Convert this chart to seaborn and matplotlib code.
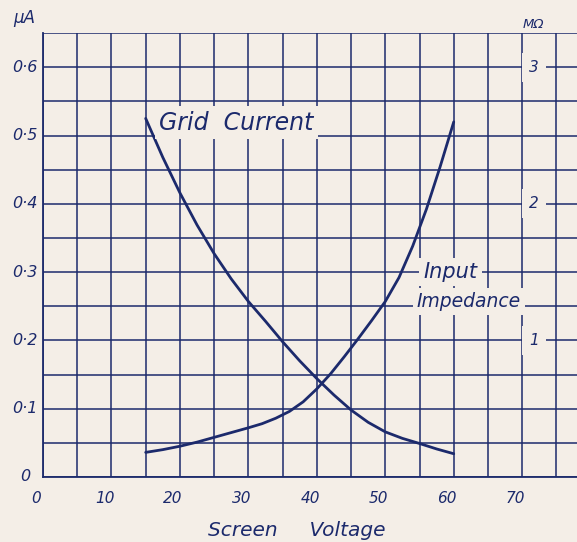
import matplotlib
matplotlib.use("Agg")
import matplotlib.pyplot as plt
import seaborn as sns
from matplotlib.ticker import MultipleLocator
from matplotlib.transforms import blended_transform_factory

# readings
gc_volts = [15, 17.5, 20, 22.5, 25, 27.5, 30, 32.5, 35, 37.5, 40, 42.5, 45, 47.5, 50, 52.5, 55, 57.5, 60]
gc_uA = [0.525, 0.468, 0.416, 0.369, 0.327, 0.29, 0.257, 0.228, 0.198, 0.17, 0.144, 0.12,
         0.098, 0.08, 0.066, 0.0565, 0.049, 0.041, 0.034]

imp_volts = [15, 17.5, 20, 22.5, 25, 27.5, 30, 32, 34, 36, 38, 40, 42, 44, 46, 48, 50, 52, 54, 56, 58, 60]
imp_mohm = [0.18, 0.2, 0.225, 0.255, 0.29, 0.325, 0.36, 0.39, 0.43, 0.48, 0.55, 0.645, 0.755,
            0.88, 1.01, 1.145, 1.285, 1.46, 1.69, 1.96, 2.27, 2.6]

x_ticks = [0, 10, 20, 30, 40, 50, 60, 70]
x_labels = ["0", "10", "20", "30", "40", "50", "60", "70"]
ua_ticks = [0, 0.1, 0.2, 0.3, 0.4, 0.5, 0.6]
ua_labels = ["0", "0·1", "0·2", "0·3", "0·4", "0·5", "0·6"]
mohm_ticks = [1, 2, 3]
mohm_labels = ["1", "2", "3"]

ink = "#1c2a6c"
paper = "#f4eee7"

sns.set_style("white")
plt.rcParams["font.family"] = ["DejaVu Sans"]
plt.rcParams["font.style"] = "italic"

fig = plt.figure(figsize=(5.77, 5.42), dpi=100, facecolor=paper)
ax = fig.add_axes([0.0745, 0.12, 0.9255, 0.819])
ax.set_facecolor(paper)

sns.lineplot(x=gc_volts, y=gc_uA, ax=ax, color=ink, lw=2.0, zorder=3)

ax.set_xlim(0, 78)
ax.set_ylim(0, 0.65)
ax.xaxis.set_major_locator(MultipleLocator(5))
ax.yaxis.set_major_locator(MultipleLocator(0.05))
ax.grid(True, color=ink, lw=1.1, zorder=1)
ax.set_axisbelow(True)
ax.tick_params(length=0, labelbottom=False, labelleft=False)
for s in ["top", "right"]:
    ax.spines[s].set_visible(False)
for s in ["left", "bottom"]:
    ax.spines[s].set_color(ink)
    ax.spines[s].set_linewidth(1.3)

# right scale for impedance
ax2 = ax.twinx()
ax2.set_ylim(0, 3.25)
sns.lineplot(x=imp_volts, y=imp_mohm, ax=ax2, color=ink, lw=2.0, zorder=3)
ax2.set_yticks([])
ax2.set_ylabel("")
for s in ax2.spines.values():
    s.set_visible(False)

# hand-lettered tick labels
for t, lab in zip(x_ticks, x_labels):
    ax.text(t - 1, -0.032, lab, ha="center", va="center", color=ink, fontsize=11)
for t, lab in zip(ua_ticks, ua_labels):
    ax.text(-2.6, t, lab, ha="center", va="center", color=ink, fontsize=11.5)

tr = blended_transform_factory(ax.transData, ax2.transData)
for t, lab in zip(mohm_ticks, mohm_labels):
    ax2.text(71.7, t, lab, transform=tr, ha="center", va="center", color=ink, fontsize=11,
             bbox=dict(boxstyle="square,pad=0.45", fc=paper, ec="none"), zorder=4)

ax.text(-2.8, 0.672, "µA", ha="center", va="center", color=ink, fontsize=12)
ax.text(71.7, 0.662, "MΩ", ha="center", va="center", color=ink, fontsize=9.5)

box = dict(boxstyle="square,pad=0.2", fc=paper, ec="none")
ax.text(17.0, 0.519, "Grid  Current", ha="left", va="center", color=ink, fontsize=17, bbox=box, zorder=4)
ax.text(55.6, 0.3, "Input", ha="left", va="center", color=ink, fontsize=15, bbox=box, zorder=4)
ax.text(54.6, 0.257, "Impedance", ha="left", va="center", color=ink, fontsize=13.5, bbox=box, zorder=4)

ax.text(37, -0.078, "Screen     Voltage", ha="center", va="center", color=ink, fontsize=14.5)

fig.savefig("out.png", dpi=100, facecolor=paper)
